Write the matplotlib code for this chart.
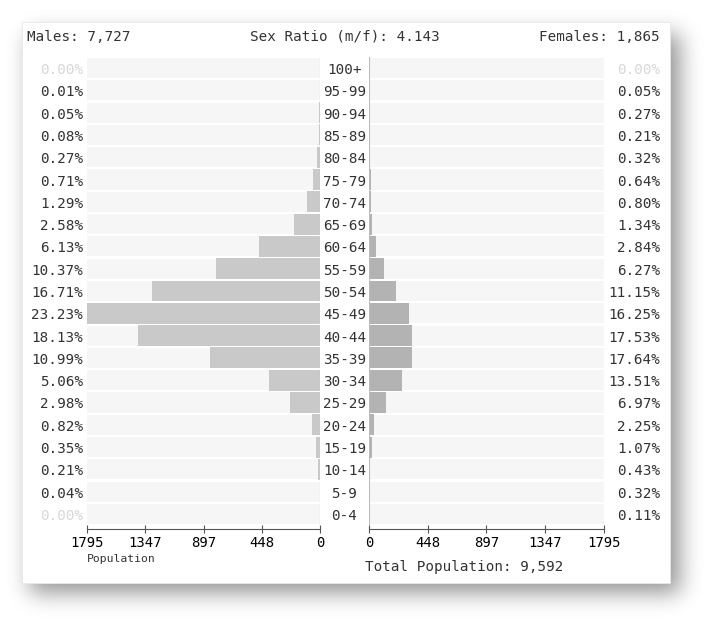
import matplotlib
matplotlib.use("Agg")
import matplotlib.pyplot as plt
import numpy as np
from matplotlib.patches import Rectangle

W, H = 720, 633

ages = ["100+", "95-99", "90-94", "85-89", "80-84", "75-79", "70-74", "65-69",
        "60-64", "55-59", "50-54", "45-49", "40-44", "35-39", "30-34", "25-29",
        "20-24", "15-19", "10-14", "5-9", "0-4"]
male_pct = [0.00, 0.01, 0.05, 0.08, 0.27, 0.71, 1.29, 2.58, 6.13, 10.37, 16.71,
            23.23, 18.13, 10.99, 5.06, 2.98, 0.82, 0.35, 0.21, 0.04, 0.00]
female_pct = [0.00, 0.05, 0.27, 0.21, 0.32, 0.64, 0.80, 1.34, 2.84, 6.27, 11.15,
              16.25, 17.53, 17.64, 13.51, 6.97, 2.25, 1.07, 0.43, 0.32, 0.11]
males_total = 7727
females_total = 1865
xticks = [0, 448, 897, 1347, 1795]
xmax = 1795

male_pop = [p * males_total / 100 for p in male_pct]
female_pop = [p * females_total / 100 for p in female_pct]

FONT = "DejaVu Sans Mono"
TXT = "#333333"
plt.rcParams["font.family"] = FONT

fig = plt.figure(figsize=(W / 100, H / 100), dpi=100)
fig.patch.set_facecolor("white")


def fx(px):
    return px / W


def fy(py):
    return 1 - py / H


# card geometry (pixels)
CL, CT, CR, CB = 22, 22, 670, 583

# blurred drop shadow, shifted down/right a little
mask = np.zeros((H, W))
mask[CT + 12:CB + 10, CL + 8:CR + 10] = 1.0
sig = 11
k = np.exp(-0.5 * (np.arange(-3 * sig, 3 * sig + 1) / sig) ** 2)
k /= k.sum()
blur = np.apply_along_axis(lambda r: np.convolve(r, k, mode="same"), 1, mask)
blur = np.apply_along_axis(lambda c: np.convolve(c, k, mode="same"), 0, blur)
shadow = np.zeros((H, W, 4))
shadow[..., 3] = blur * 0.42
bg = fig.add_axes([0, 0, 1, 1], zorder=-5)
bg.imshow(shadow, extent=[0, W, H, 0], interpolation="bilinear")
bg.set_xlim(0, W)
bg.set_ylim(H, 0)
bg.axis("off")
bg.add_patch(Rectangle((CL, CT), CR - CL, CB - CT, facecolor="white",
                       edgecolor="#e8e8e8", lw=0.6))

n = len(ages)
ys = list(range(n))
pitch = (514 - 68) / (n - 1)
top_px = 68 - pitch / 2
bot_px = 514 + pitch / 2
ax_b = fy(bot_px)
ax_h = (bot_px - top_px) / H

axL = fig.add_axes([fx(87), ax_b, 233 / W, ax_h])
axR = fig.add_axes([fx(369), ax_b, 235 / W, ax_h])

for ax, vals, color in [(axL, male_pop, "#c9c9c9"), (axR, female_pop, "#b3b3b3")]:
    ax.set_facecolor("none")
    ax.barh(ys, [xmax] * n, height=0.9, color="#f6f6f6", zorder=1)
    ax.barh(ys, vals, height=0.94, color=color, zorder=2)
    ax.set_xlim(0, xmax)
    ax.set_ylim(n - 0.5, -0.5)
    ax.set_yticks([])
    ax.set_xticks(xticks)
    ax.set_xticklabels([str(t) for t in xticks], fontsize=8.2, color="#444444")
    ax.tick_params(axis="x", direction="inout", length=6, width=0.8,
                   color="#555555", pad=2)
    for s in ["top", "right", "left"]:
        ax.spines[s].set_visible(False)
    ax.spines["bottom"].set_position(("outward", 3))
    ax.spines["bottom"].set_color("#555555")
    ax.spines["bottom"].set_linewidth(0.8)

axL.invert_xaxis()
axL.axvline(0, color="#bbbbbb", lw=0.8, zorder=3)
axR.axvline(0, color="#bbbbbb", lw=0.8, zorder=3)

for i, age in enumerate(ages):
    yc = fy(68 + i * pitch + 2)
    fig.text(fx(344.5), yc, age, ha="center", va="center", fontsize=10.3, color=TXT)
    mc = "#d8d8d8" if male_pct[i] == 0 else TXT
    fc = "#d8d8d8" if female_pct[i] == 0 else TXT
    fig.text(fx(83), yc, f"{male_pct[i]:.2f}%", ha="right", va="center",
             fontsize=10.3, color=mc)
    fig.text(fx(660), yc, f"{female_pct[i]:.2f}%", ha="right", va="center",
             fontsize=10.3, color=fc)

ratio = males_total / females_total
fig.text(fx(27), fy(37), f"Males: {males_total:,}", ha="left", va="center",
         fontsize=10.3, color=TXT)
fig.text(fx(345), fy(37), f"Sex Ratio (m/f): {ratio:.3f}", ha="center",
         va="center", fontsize=10.3, color=TXT)
fig.text(fx(660), fy(37), f"Females: {females_total:,}", ha="right",
         va="center", fontsize=10.3, color=TXT)
fig.text(fx(121), fy(559), "Population", ha="center", va="center",
         fontsize=8.2, color=TXT)
fig.text(fx(464), fy(567), f"Total Population: {males_total + females_total:,}",
         ha="center", va="center", fontsize=10.3, color=TXT)

fig.savefig("out.png", dpi=100)
